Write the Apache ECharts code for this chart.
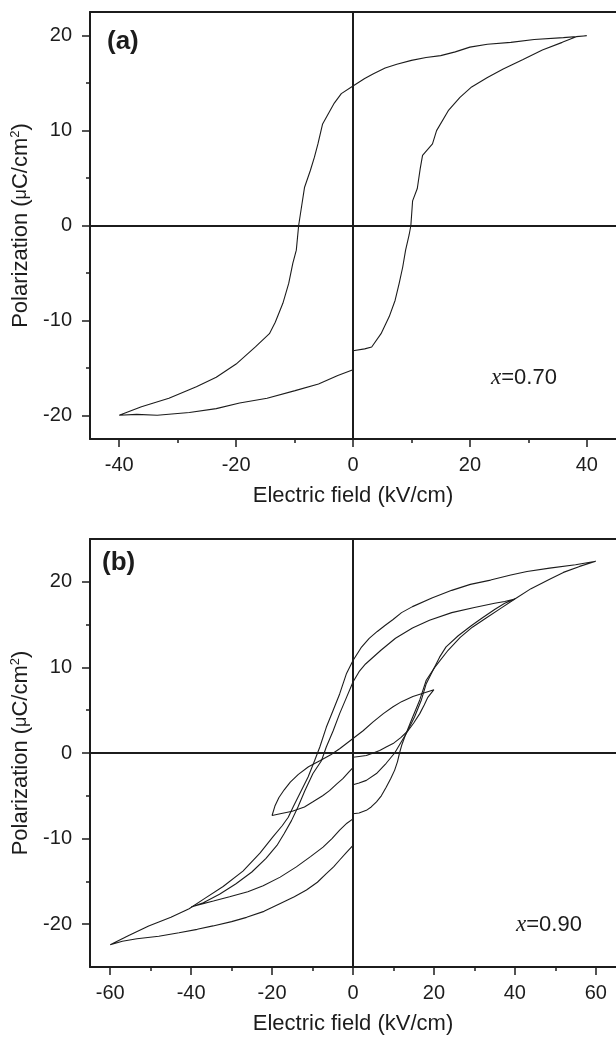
<!DOCTYPE html>
<html>
<head>
<meta charset="utf-8">
<script src="https://cdn.jsdelivr.net/npm/echarts@6/dist/echarts.min.js"></script>
<style>
  html, body { margin: 0; padding: 0; background: #fff; }
  #chart { width: 616px; height: 1038px; }
</style>
</head>
<body>
<div id="chart"></div>
<script>
// P–E hysteresis loops. Field in kV/cm, polarization in µC/cm².

// (a) x = 0.70, cycled to ±40 kV/cm
const aDown = [
  [40, 20.0], [36, 19.8], [31, 19.6], [27, 19.3], [23, 19.1], [20, 18.8], [17.5, 18.3],
  [15, 17.9], [12.5, 17.7], [10, 17.4], [7.5, 17.0], [5.5, 16.6], [3.5, 16.0], [2, 15.5],
  [0, 14.7], [-2, 13.9], [-3.2, 12.9], [-4.2, 11.8], [-5.2, 10.7], [-6.0, 8.6], [-6.6, 7.2],
  [-7.3, 5.8], [-8.3, 4.0], [-8.8, 2.0], [-9.3, 0], [-9.7, -2.6], [-10.3, -4.0], [-11.0, -6.1],
  [-12.0, -8.2], [-13.3, -10.2], [-14.3, -11.4], [-16.7, -12.8], [-20.0, -14.6], [-23.4, -16.0],
  [-26.8, -17.0], [-31.5, -18.2], [-36.2, -19.1], [-40, -20.0]
];
const aUpNeg = [
  [-37, -19.9], [-33.5, -20.0], [-28, -19.7], [-23.4, -19.3], [-19.4, -18.7], [-14.7, -18.2],
  [-9.9, -17.4], [-5.9, -16.7], [-2.6, -15.8], [0, -15.2]
];
const aUpPos = [
  [0, -13.2], [2, -13.0], [3.2, -12.8], [4.8, -11.4], [6.2, -9.6], [7.2, -7.9], [7.9, -6.1],
  [8.5, -4.4], [9.0, -2.6], [9.6, -1.0], [9.9, 0], [10.2, 2.6], [11.0, 3.9], [11.5, 6.0],
  [11.9, 7.4], [13.6, 8.6], [14.3, 10.0], [16.3, 12.1], [18.3, 13.5], [20.3, 14.6], [23.0, 15.6],
  [25.7, 16.5], [29.1, 17.5], [32.4, 18.5], [35.8, 19.3], [38.2, 19.9], [40, 20.0]
];

// (b) x = 0.90, cycled to ±20 kV/cm
const b20Down = [
  [20, 7.4], [17.5, 7.0], [14.8, 6.6], [12, 6.0], [9.9, 5.4], [7.5, 4.6], [4.9, 3.6], [2.5, 2.6],
  [0, 1.7], [-3.3, 0.5], [-5.5, -0.2], [-8.2, -0.9], [-11, -1.6], [-13.5, -2.5], [-15.5, -3.4],
  [-17, -4.3], [-18.3, -5.2], [-19.3, -6.2], [-20, -7.3]
];
const b20UpNeg = [
  [-18, -7.1], [-15, -6.8], [-12, -6.3], [-9.9, -5.7], [-7.5, -5.0], [-5.8, -4.4], [-4, -3.6],
  [-2.5, -3.0], [-1, -2.2], [0, -1.7]
];
const b20UpPos = [
  [0, -0.5], [1.5, -0.4], [3.3, -0.3], [5, 0], [6.6, 0.3], [8.2, 0.7], [9.9, 1.1], [11.8, 1.8],
  [13.6, 2.6], [15, 3.5], [16.5, 4.6], [17.6, 5.6], [18.5, 6.5], [20, 7.4]
];

// (b) cycled to ±40 kV/cm
const b40Down = [
  [40, 18.0], [37.5, 17.7], [35, 17.5], [30, 17.0], [24.4, 16.4], [18.9, 15.5], [14.7, 14.6],
  [10.5, 13.4], [6.9, 12.0], [3.1, 10.4], [1.5, 9.5], [0, 8.3], [-1.6, 6.5], [-3.3, 4.6],
  [-4.9, 2.6], [-6.6, 0.7], [-7.8, -0.9], [-9.9, -2.4], [-11.9, -4.4], [-13.6, -6.3],
  [-15.2, -7.9], [-17.0, -9.4], [-18.8, -10.8], [-21.5, -12.3], [-25, -13.9], [-29, -15.3],
  [-33, -16.5], [-37, -17.5], [-40, -18.0]
];
const b40UpNeg = [
  [-38.7, -17.8], [-34.5, -17.3], [-30.5, -16.8], [-26, -16.2], [-22.2, -15.5], [-18, -14.5],
  [-14, -13.3], [-10.5, -12.1], [-7.4, -11.0], [-5.2, -10.0], [-3.3, -9.0], [-1.5, -8.2], [0, -7.7]
];
const b40UpPos = [
  [0, -3.7], [1.5, -3.5], [3.3, -3.2], [5.8, -2.4], [8.2, -1.2], [10.3, 0], [11.8, 1.2],
  [13.2, 2.3], [15.2, 4.2], [16.9, 6.2], [18.1, 8.1], [19.8, 9.7], [21.4, 11.2], [23.0, 12.4],
  [26, 13.7], [29.3, 14.9], [32, 15.8], [35.1, 16.8], [37.5, 17.5], [40, 18.0]
];

// (b) cycled to ±60 kV/cm
const b60Down = [
  [60, 22.4], [55, 22.0], [48.6, 21.6], [43, 21.2], [39, 20.8], [34, 20.2], [29, 19.7],
  [24.4, 19.0], [19.5, 18.1], [14.7, 17.1], [12, 16.4], [9.9, 15.6], [7.9, 14.9], [6, 14.2],
  [4, 13.4], [2, 12.3], [0, 10.8], [-1.6, 9.3], [-3.3, 6.9], [-4.9, 5.0], [-6.6, 3.0],
  [-8.2, 0.7], [-9.5, -0.9], [-11.1, -2.8], [-13.2, -4.8], [-14.8, -6.3], [-16, -7.5],
  [-17.5, -8.5], [-19.8, -9.8], [-23, -11.7], [-27.2, -13.8], [-32.1, -15.6], [-37, -17.1],
  [-40.5, -18.2], [-45, -19.2], [-50.5, -20.2], [-55.3, -21.3], [-60, -22.4]
];
const b60UpNeg = [
  [-57, -22.0], [-53.4, -21.7], [-48, -21.4], [-43, -21.0], [-38.5, -20.6], [-34.6, -20.2],
  [-30, -19.7], [-26.3, -19.2], [-22, -18.5], [-18.1, -17.6], [-14.5, -16.8], [-11.5, -16.0],
  [-8.8, -15.1], [-6.6, -14.1], [-4.8, -13.3], [-3.3, -12.5], [-1.6, -11.6], [0, -10.8]
];
const b60UpPos = [
  [0, -7.1], [1.5, -7.0], [3.3, -6.7], [4.5, -6.3], [5.8, -5.7], [7, -5.0], [8.2, -4.0],
  [9.3, -3.0], [10.3, -2.0], [11.0, -1.0], [11.5, 0], [12.1, 1.0], [12.8, 1.9], [14.4, 3.8],
  [16.5, 6.2], [18.1, 8.5], [20.2, 10.0], [23.5, 12.0], [26.5, 13.5], [29.5, 14.7], [33, 15.8],
  [36.5, 16.9], [40, 18.0], [44, 19.2], [48.6, 20.3], [52, 21.1], [56, 21.8], [60, 22.4]
];

// Axis ranges and ticks
const aFieldRange = [-45, 45];
const bFieldRange = [-65, 65];
const aPolRange = [-22.5, 22.5];
const bPolRange = [-25, 25];
const aFieldTicks = [-40, -20, 0, 20, 40];
const aFieldMinor = [-30, -10, 10, 30];
const bFieldTicks = [-60, -40, -20, 0, 20, 40, 60];
const bFieldMinor = [-50, -30, -10, 10, 30, 50];
const polTicks = [-20, -10, 0, 10, 20];
const polMinor = [-15, -5, 5, 15];

const panelTags = ['(a)', '(b)'];
const compositions = ['0.70', '0.90'];

const FONT = '"Liberation Sans", Arial, Helvetica, sans-serif';
const INK = '#1c1c1c';

function baseAxis(extra) {
  return Object.assign({
    type: 'value',
    splitLine: { show: false },
    axisLine: { show: false, onZero: false },
    axisTick: { show: false },
    axisLabel: { show: false }
  }, extra);
}

function fieldAxes(grid, range, major, minor) {
  return [
    baseAxis({
      gridIndex: grid, position: 'bottom', min: range[0], max: range[1],
      axisLine: { show: true, onZero: false, lineStyle: { color: INK, width: 2 } },
      axisTick: { show: true, customValues: major, length: 8, lineStyle: { color: INK, width: 1.5 } },
      axisLabel: { show: true, customValues: major, margin: 16, fontSize: 20, color: INK, fontFamily: FONT },
      name: 'Electric field (kV/cm)', nameLocation: 'middle', nameGap: 46,
      nameTextStyle: { fontSize: 22, color: INK, fontFamily: FONT }
    }),
    baseAxis({
      gridIndex: grid, position: 'bottom', min: range[0], max: range[1],
      axisTick: { show: true, customValues: minor, length: 4, lineStyle: { color: INK, width: 1.5 } }
    }),
    baseAxis({
      gridIndex: grid, position: 'top', min: range[0], max: range[1],
      axisLine: { show: true, onZero: false, lineStyle: { color: INK, width: 2 } }
    })
  ];
}

function polAxes(grid, range) {
  return [
    baseAxis({
      gridIndex: grid, position: 'left', min: range[0], max: range[1],
      axisLine: { show: true, onZero: false, lineStyle: { color: INK, width: 2 } },
      axisTick: { show: true, customValues: polTicks, length: 8, lineStyle: { color: INK, width: 1.5 } },
      axisLabel: { show: true, customValues: polTicks, margin: 18, fontSize: 20, color: INK, fontFamily: FONT },
      name: 'Polarization ({mu|μ}C/cm{sup|2})', nameLocation: 'middle', nameRotate: 90, nameGap: 52,
      nameTextStyle: {
        fontSize: 22, color: INK, fontFamily: FONT,
        rich: {
          mu: { fontSize: 18, color: INK, fontFamily: FONT },
          sup: { fontSize: 13, color: INK, fontFamily: FONT, verticalAlign: 'top', padding: [0, 0, 12, 0] }
        }
      }
    }),
    baseAxis({
      gridIndex: grid, position: 'left', min: range[0], max: range[1],
      axisTick: { show: true, customValues: polMinor, length: 4, lineStyle: { color: INK, width: 1.5 } }
    })
  ];
}

const zeroLines = {
  silent: true,
  symbol: ['none', 'none'],
  label: { show: false },
  lineStyle: { color: INK, width: 2, type: 'solid' },
  data: [{ xAxis: 0 }, { yAxis: 0 }],
  animation: false
};

function loop(xi, yi, pts, withZero) {
  const s = {
    type: 'line', xAxisIndex: xi, yAxisIndex: yi, data: pts,
    symbol: 'none', showSymbol: false, smooth: false, silent: true,
    lineStyle: { color: INK, width: 1.1 }, animation: false
  };
  if (withZero) s.markLine = zeroLines;
  return s;
}

function tagText(x, y, text) {
  return { type: 'text', x: x, y: y, silent: true,
    style: { text: text, fill: INK, font: 'bold 26px ' + FONT, verticalAlign: 'middle' } };
}
function compText(x, y, value) {
  return { type: 'text', x: x, y: y, silent: true,
    style: {
      text: '{i|x}{n|=' + value + '}', verticalAlign: 'middle', fill: INK,
      rich: {
        i: { fontFamily: '"Liberation Serif", "Times New Roman", serif', fontStyle: 'italic', fontSize: 23, fill: INK },
        n: { fontFamily: FONT, fontSize: 22, fill: INK }
      }
    } };
}

const chart = echarts.init(document.getElementById('chart'), null, { renderer: 'canvas' });
chart.setOption({
  backgroundColor: '#ffffff',
  animation: false,
  grid: [
    { left: 90, top: 12, width: 526, height: 427 },
    { left: 90, top: 539, width: 526, height: 428 }
  ],
  xAxis: [].concat(
    fieldAxes(0, aFieldRange, aFieldTicks, aFieldMinor),
    fieldAxes(1, bFieldRange, bFieldTicks, bFieldMinor)
  ),
  yAxis: [].concat(polAxes(0, aPolRange), polAxes(1, bPolRange)),
  series: [
    loop(0, 0, [].concat(aDown, aUpNeg, aUpPos), true),
    loop(3, 2, [].concat(b20Down, b20UpNeg, b20UpPos), true),
    loop(3, 2, [].concat(b40Down, b40UpNeg, b40UpPos), false),
    loop(3, 2, [].concat(b60Down, b60UpNeg, b60UpPos), false)
  ],
  graphic: [
    tagText(107, 42, panelTags[0]),
    tagText(102, 563, panelTags[1]),
    compText(491, 378, compositions[0]),
    compText(516, 925, compositions[1])
  ]
});
</script>
</body>
</html>
